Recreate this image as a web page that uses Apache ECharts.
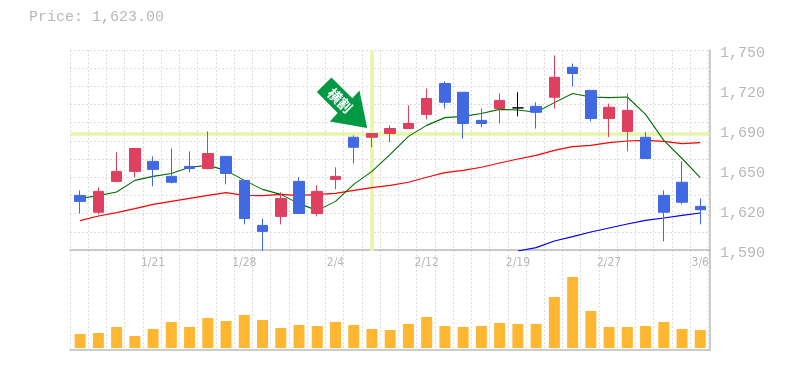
<!DOCTYPE html>
<html><head><meta charset="utf-8">
<style>html,body{margin:0;padding:0;background:#fff}#c{width:785px;height:370px}</style>
<script src="https://cdn.jsdelivr.net/npm/echarts@6/dist/echarts.min.js"></script>
</head><body><div id="c"></div>
<script>
const dates=['1/15','1/16','1/17','1/18','1/21','1/22','1/23','1/24','1/25','1/28','1/29','1/30','1/31','2/1','2/4','2/5','2/6','2/7','2/8','2/12','2/13','2/14','2/15','2/18','2/19','2/20','2/21','2/22','2/25','2/27','2/28','3/1','3/4','3/5','3/6'];
const shownDates=['1/21','1/28','2/4','2/12','2/19','2/27','3/6'];
const opens=[1634.5,1621,1645.7,1653.7,1661.7,1649.7,1657.7,1656,1665.7,1646.5,1610.5,1617.7,1645.7,1620,1647.3,1681,1681,1684,1688,1699.3,1724,1717,1694.5,1704,1704.5,1705.7,1713,1737,1718.5,1696,1685.7,1681,1634.5,1645,1625.7];
const closes=[1629.7,1637.7,1653.7,1672,1655.3,1645,1656,1668,1652,1616,1605.7,1632,1620,1637.7,1649.7,1673,1684,1688,1692,1712,1709,1692,1692,1710.5,1704.5,1701,1729,1732,1696,1705,1702.5,1664,1621,1629,1623];
const lows=[1620,1619.3,1645,1649,1641.7,1644,1653,1655.3,1643.3,1611.3,1590,1611.3,1620,1617.7,1639.3,1660,1673,1677,1688,1695.3,1704,1680,1689,1692,1697.7,1688,1704,1721.7,1693.7,1681,1669.7,1664,1597.7,1627.3,1611.3];
const highs=[1638.5,1641,1669,1672,1665.7,1672,1669.7,1685.7,1665.7,1646.5,1616,1637,1649,1642.5,1657,1682.5,1684,1690.5,1706.5,1720,1725.7,1717,1704,1716,1717,1709,1746.5,1740,1718.5,1708,1716,1685,1638.5,1661.7,1632];
const maShort=[1632,1634.3,1637.2,1646.5,1649.7,1652,1657,1658.5,1654.5,1646.5,1639.3,1635.3,1627.9,1622.5,1629.7,1643.3,1653.7,1667.3,1681.7,1690.5,1696.7,1697.7,1700,1703.3,1702.8,1701,1708.7,1716,1713.2,1712.7,1713.2,1699.3,1678.5,1664,1648.7];
const maMid=[1614.3,1618,1620.7,1623.9,1627.3,1629.7,1632.1,1634.5,1636.7,1634.5,1634.3,1635.3,1634.3,1635.3,1636.1,1638.5,1640.7,1642.5,1645,1649,1652.7,1654.5,1657,1660.4,1663.6,1666.5,1670.5,1673.5,1674.5,1676.7,1678,1678.5,1677.7,1675.9,1676.7];
const maLong=[null,null,null,null,null,null,null,null,null,null,null,null,null,null,null,null,null,null,null,null,null,null,null,null,1590,1592.7,1598,1601.5,1605.2,1608.4,1611.6,1614.5,1616.4,1618.5,1620.4];
const volumes=[14,15,21,12,19,26,21,30,27,33,28,20,23,22,26,23,19,18,24,31,22,21,22,25,24,24,51,71,37,21,21,22,26,19,18];
const priceTicks=[1590,1622,1654,1686,1718,1750];
const priceTickLabels=['1,590','1,620','1,650','1,690','1,720','1,750'];
const currentPrice=1623;
const crossDate='2/6';
const crossPrice=1684;
const calloutText='横割';

const RED='#E0405F',BLUE='#4169E1',BLACK='#000000',GRID='#dddddd',FRAME='#bbbbbb',TXT='#b8b8b8',CROSS='#E6F5AA';
const MONO='"Liberation Mono",monospace';
const candles=dates.map((d,i)=>{
  const o=opens[i],c=closes[i];
  const col=o===c?BLACK:(c>o?RED:BLUE);
  return {value:[o,c,lows[i],highs[i]],itemStyle:{color:col,color0:col,borderColor:col,borderColor0:col,borderColorDoji:col}};
});
const dash={type:[2,2],color:GRID,width:1};
const solid={show:true,onZero:false,lineStyle:{color:FRAME,width:1.5}};
const off={show:false};
const chart=echarts.init(document.getElementById('c'),null,{renderer:'canvas'});
const catAxis=(g,extra)=>Object.assign({type:'category',gridIndex:g,data:dates,boundaryGap:true,axisLine:off,axisTick:off,axisLabel:off,splitLine:off},extra||{});
chart.setOption({
  animation:false,backgroundColor:'#fff',
  title:{text:'Price: '+currentPrice.toLocaleString('en-US',{minimumFractionDigits:2}),left:24,top:5,textStyle:{fontFamily:MONO,fontSize:15,fontWeight:'normal',color:TXT}},
  grid:[
    {left:70,top:50,width:638.4,height:300},
    {left:70,top:50,width:640,height:200},
    {left:70,top:250,width:640,height:100},
    {left:71,top:51,width:638.4,height:200},
    {left:71,top:250,width:638.4,height:98}
  ],
  xAxis:[
    catAxis(0,{splitLine:{show:true,interval:0,lineStyle:dash}}),
    {type:'value',gridIndex:1,min:0,max:1,axisLine:{show:true,onZero:false,lineStyle:{color:FRAME,width:1.5}},axisTick:off,axisLabel:off,splitLine:off},
    {type:'value',gridIndex:2,min:0,max:1,axisLine:{show:true,onZero:false,lineStyle:{color:FRAME,width:1.5}},axisTick:off,axisLabel:off,splitLine:off},
    catAxis(3,{axisLabel:{show:true,margin:6,interval:(i,v)=>shownDates.includes(v),color:TXT,fontFamily:'"Liberation Sans Narrow","DejaVu Sans Condensed",sans-serif',fontSize:12,hideOverlap:false}}),
    catAxis(4)
  ],
  yAxis:[
    {type:'value',gridIndex:0,min:0,max:1,show:false},
    {type:'value',gridIndex:1,min:0,max:11,interval:1,position:'right',axisLine:solid,axisTick:off,axisLabel:off,splitLine:{show:true,lineStyle:dash}},
    {type:'value',gridIndex:2,min:0,max:1,position:'right',axisLine:solid,axisTick:off,axisLabel:off,splitLine:off},
    {type:'value',gridIndex:3,min:1590,max:1750,position:'right',axisLine:off,axisTick:off,splitLine:off,
      axisLabel:{show:true,customValues:priceTicks,margin:10.6,align:'left',verticalAlign:'top',lineHeight:5,color:TXT,fontFamily:MONO,fontSize:15,
        formatter:v=>priceTickLabels[priceTicks.indexOf(v)]}},
    {type:'value',gridIndex:4,min:0,max:98,show:false}
  ],
  series:[
    {type:'line',xAxisIndex:3,yAxisIndex:3,data:[],z:1,silent:true,symbol:'none',
      markLine:{silent:true,symbol:'none',label:off,z:1,lineStyle:{color:CROSS,width:3.5,type:'solid'},
        data:[{xAxis:crossDate},{yAxis:crossPrice}]}},
    {type:'line',xAxisIndex:3,yAxisIndex:3,data:maMid,symbol:'none',z:2,lineStyle:{color:'#ff0000',width:1.2}},
    {type:'line',xAxisIndex:3,yAxisIndex:3,data:maShort,symbol:'none',z:2,lineStyle:{color:'#006e00',width:1.1}},
    {type:'line',xAxisIndex:3,yAxisIndex:3,data:maLong,symbol:'none',z:2,lineStyle:{color:'#0000ee',width:1.2}},
    {type:'candlestick',xAxisIndex:3,yAxisIndex:3,data:candles,barWidth:11,z:3},
    {type:'bar',xAxisIndex:4,yAxisIndex:4,data:volumes,barWidth:11,itemStyle:{color:'#FFB732'},z:2}
  ]
});
const tip=chart.convertToPixel({xAxisIndex:3,yAxisIndex:3},[crossDate,crossPrice]);
const ax=tip[0]-4.8,ay=tip[1]-5.4;
chart.setOption({graphic:[{type:'group',x:ax,y:ay,z:10,children:[
  {type:'polygon',shape:{points:[[-35.7,-50.7],[-50.3,-36],[-29.5,-15.2],[-37.3,-6.7],[0,0],[-7.7,-37.7],[-14.8,-29.8]]},style:{fill:'#009944'}},
  {type:'text',x:-27.2,y:-27.5,rotation:-Math.PI/4,style:{text:calloutText,fill:'#fff',font:'bold 14px "Noto Sans CJK JP"',align:'center',verticalAlign:'middle'}}
]}]});
</script></body></html>
